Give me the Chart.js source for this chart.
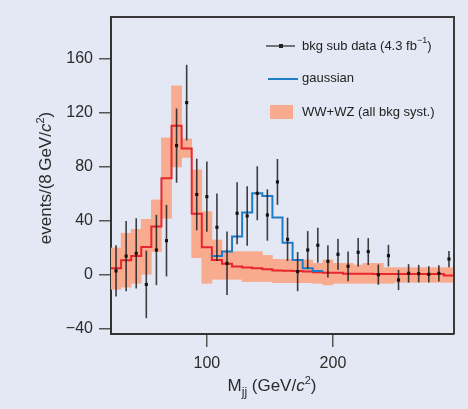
<!DOCTYPE html>
<html>
<head>
<meta charset="utf-8">
<script src="https://cdn.jsdelivr.net/npm/chart.js@4.4.1/dist/chart.umd.min.js"></script>
<style>
  html, body { margin: 0; padding: 0; background: #e4e8f4; }
  #wrap { position: relative; width: 468px; height: 409px; }
</style>
</head>
<body>
<div id="wrap"><canvas id="massChart"></canvas></div>
<script>
// bin centres (GeV/c^2), 8 GeV bins
const binCenters = [28, 36, 44, 52, 60, 68, 76, 84, 92, 100, 108, 116, 124, 132, 140, 148, 156,
    164, 172, 180, 188, 196, 204, 212, 220, 228, 236, 244, 252, 260, 268, 276, 284, 292];

// background-subtracted data and its errors
const dataValues = [3, 14, 16, -7, 18.5, 25.4, 95.8, 127.6, 59.6, 58, 35.3, 8.6, 45.7, 43.7, 60.5, 44.4, 68.9,
    26.4, 2.5, 18.5, 22, 10.1, 15.3, 6.4, 16.8, 17.3, 0.2, 14.3, -3.7, 1.2, 1.0, 0.5, 1.2, 11.8];
const dataErrors = [19, 26, 26, 25, 26, 26.5, 27.5, 28, 26.5, 26, 25, 23.5, 23, 22, 20, 19, 17,
    16, 14.5, 14, 13, 12, 11.5, 11, 10.5, 10, 7.5, 8, 7.5, 6.8, 6.5, 6, 6, 6];

// WW+WZ prediction and its band
const wwwzValues = [5, 10.9, 14, 20.7, 35.8, 71.6, 110.4, 93.6, 45.4, 20.5, 11.1, 8.4, 6.2, 5.6, 5.0, 4.2, 3.4,
    3.2, 3.0, 2.6, 2.0, 1.7, 1.7, 1.0, 1.0, 1.0, 0.7, 0.7, 0.7, 0.7, 0.7, 0.7, 0.7, -0.4];
const bandLow = [-10.6, -9, -6.2, 0, 17.3, 42, 80, 87, 12.8, -6.2, -3.2, -3.2, -3.2, -4.9, -4.9, -4.9, -5.7,
    -5.7, -5.7, -5.7, -6.2, -7.4, -6.2, -6.2, -6.2, -6.2, -6.2, -6.2, -5.4, -5.4, -5.4, -5.4, -5.4, -5.4];
const bandHigh = [20, 30.9, 33.8, 41.2, 55.6, 101.5, 140, 100.7, 77.8, 46.9, 25.9, 17.8, 17.3, 17.3, 17.3, 14.5, 11.6,
    11.6, 11.1, 11.1, 8.6, 11.1, 8.6, 8.6, 7.4, 8.6, 8.6, 5.4, 5.4, 5.4, 5.4, 5.4, 5.4, 5.4];

// gaussian (on top of WW+WZ)
const gaussCenters = [108, 116, 124, 132, 140, 148, 156, 164, 172, 180, 188];
const gaussValues = [14.1, 17.3, 28.4, 46.2, 60.5, 58.5, 42.5, 23.9, 11.1, 4.9, 3.0];

const xTicks = [100, 200];
const yTicks = [-40, 0, 40, 80, 120, 160];

const BIN_WIDTH = 8;
const FONT = "'Liberation Sans', Arial, sans-serif";
const BG = "#e4e8f4";
const SALMON = "#f9ab8f";
const RED = "#e8262c";
const BLUE = "#1f7dc6";
const INK = "#2b2b2b";

function stepPoints(centers, values) {
    const pts = centers.map((c, i) => ({ x: c - BIN_WIDTH / 2, y: values[i] }));
    pts.push({ x: centers[centers.length - 1] + BIN_WIDTH / 2, y: values[values.length - 1] });
    return pts;
}

function drawRich(ctx, parts, x, y, align) {
    // parts: [{text, size, dy, italic}]
    let total = 0;
    parts.forEach(p => {
        ctx.font = (p.italic ? "italic " : "") + p.size + "px " + FONT;
        p.w = ctx.measureText(p.text).width;
        total += p.w;
    });
    let cx = align === "center" ? x - total / 2 : x;
    parts.forEach(p => {
        ctx.font = (p.italic ? "italic " : "") + p.size + "px " + FONT;
        ctx.fillText(p.text, cx, y + (p.dy || 0));
        cx += p.w;
    });
}

const decorPlugin = {
    id: "decor",
    beforeDraw(chart) {
        const ctx = chart.ctx;
        ctx.save();
        ctx.fillStyle = BG;
        ctx.fillRect(0, 0, chart.width, chart.height);
        ctx.restore();
    },
    beforeDatasetDraw(chart, args) {
        if (args.index !== 0) return;
        const ctx = chart.ctx;
        const xs = chart.scales.x;
        const ys = chart.scales.y;
        ctx.save();
        ctx.strokeStyle = "rgba(30,30,30,0.85)";
        ctx.lineWidth = 1.6;
        binCenters.forEach((c, i) => {
            const px = xs.getPixelForValue(c);
            ctx.beginPath();
            ctx.moveTo(px, ys.getPixelForValue(dataValues[i] + dataErrors[i]));
            ctx.lineTo(px, ys.getPixelForValue(dataValues[i] - dataErrors[i]));
            ctx.stroke();
        });
        ctx.restore();
    },
    afterDraw(chart) {
        const ctx = chart.ctx;
        const a = chart.chartArea;
        ctx.save();
        // frame (top and right)
        ctx.strokeStyle = "#3a3a3a";
        ctx.lineWidth = 2;
        ctx.beginPath();
        ctx.moveTo(a.left, a.top);
        ctx.lineTo(a.right, a.top);
        ctx.lineTo(a.right, a.bottom);
        ctx.stroke();

        ctx.fillStyle = INK;
        ctx.textBaseline = "alphabetic";

        // x axis title
        drawRich(ctx, [
            { text: "M", size: 17 },
            { text: "jj", size: 12, dy: 5 },
            { text: " (GeV/", size: 17 },
            { text: "c", size: 17, italic: true },
            { text: "2", size: 11, dy: -7 },
            { text: ")", size: 17 }
        ], 272, 391, "center");

        // y axis title
        ctx.save();
        ctx.translate(51, 178);
        ctx.rotate(-Math.PI / 2);
        drawRich(ctx, [
            { text: "events/(8\u2009GeV/", size: 17 },
            { text: "c", size: 17, italic: true },
            { text: "2", size: 11, dy: -7 },
            { text: ")", size: 17 }
        ], 0, 0, "center");
        ctx.restore();

        // legend
        ctx.font = "13px " + FONT;
        ctx.textBaseline = "middle";
        ctx.strokeStyle = "#222";
        ctx.lineWidth = 1.2;
        ctx.beginPath();
        ctx.moveTo(266, 46);
        ctx.lineTo(295, 46);
        ctx.stroke();
        ctx.fillStyle = "#222";
        ctx.fillRect(279, 44, 4, 4);
        drawRich(ctx, [
            { text: "bkg sub data (4.3 fb", size: 13 },
            { text: "\u22121", size: 9, dy: -5 },
            { text: ")", size: 13 }
        ], 302, 46, "left");

        ctx.strokeStyle = BLUE;
        ctx.lineWidth = 2;
        ctx.beginPath();
        ctx.moveTo(268, 79);
        ctx.lineTo(298, 79);
        ctx.stroke();
        ctx.fillStyle = "#222";
        ctx.font = "13px " + FONT;
        ctx.fillText("gaussian", 302, 78);

        ctx.fillStyle = SALMON;
        ctx.fillRect(270, 105, 23, 14);
        ctx.fillStyle = "#222";
        ctx.fillText("WW+WZ (all bkg syst.)", 302, 112);
        ctx.restore();
    }
};

const ctx = document.getElementById("massChart").getContext("2d");

new Chart(ctx, {
    type: "bar",
    data: {
        datasets: [
            {
                type: "line",
                label: "bkg sub data",
                data: binCenters.map((c, i) => ({ x: c, y: dataValues[i] })),
                showLine: false,
                pointStyle: "rect",
                pointRadius: 2.2,
                pointBackgroundColor: "#111",
                pointBorderWidth: 0,
                order: 0
            },
            {
                type: "line",
                label: "gaussian",
                data: stepPoints(gaussCenters, gaussValues),
                stepped: "before",
                borderColor: BLUE,
                borderWidth: 2,
                pointRadius: 0,
                fill: false,
                order: 1
            },
            {
                type: "line",
                label: "WW+WZ",
                data: stepPoints(binCenters, wwwzValues),
                stepped: "before",
                borderColor: RED,
                borderWidth: 2,
                pointRadius: 0,
                fill: false,
                order: 2
            },
            {
                type: "bar",
                label: "WW+WZ syst",
                data: binCenters.map((c, i) => ({ x: c, y: [bandLow[i], bandHigh[i]] })),
                backgroundColor: SALMON,
                borderWidth: 0,
                barPercentage: 1,
                categoryPercentage: 1,
                order: 3
            }
        ]
    },
    options: {
        responsive: true,
        maintainAspectRatio: false,
        animation: false,
        layout: { padding: { top: 17, right: 14, bottom: 0, left: 0 } },
        plugins: {
            legend: { display: false },
            tooltip: { enabled: false }
        },
        scales: {
            x: {
                type: "linear",
                min: 24,
                max: 296,
                offset: false,
                afterBuildTicks: s => { s.ticks = xTicks.map(v => ({ value: v })); },
                afterFit: s => { s.height = 75; },
                grid: {
                    offset: false,
                    drawOnChartArea: false,
                    drawTicks: true,
                    tickLength: 13,
                    color: "#555",
                    lineWidth: 1.5
                },
                border: { display: true, color: "#333", width: 2 },
                ticks: {
                    color: INK,
                    font: { family: FONT, size: 16 },
                    padding: 7,
                    maxRotation: 0
                }
            },
            y: {
                type: "linear",
                min: -43.7,
                max: 191,
                afterBuildTicks: s => { s.ticks = yTicks.map(v => ({ value: v })); },
                afterFit: s => { s.width = 111; },
                grid: {
                    drawOnChartArea: false,
                    drawTicks: true,
                    tickLength: 12,
                    color: "#555",
                    lineWidth: 1.5
                },
                border: { display: true, color: "#333", width: 2 },
                ticks: {
                    color: INK,
                    font: { family: FONT, size: 16 },
                    padding: 6,
                    callback: v => (v < 0 ? "\u2212" + Math.abs(v) : String(v))
                }
            }
        }
    },
    plugins: [decorPlugin]
});
</script>
</body>
</html>
